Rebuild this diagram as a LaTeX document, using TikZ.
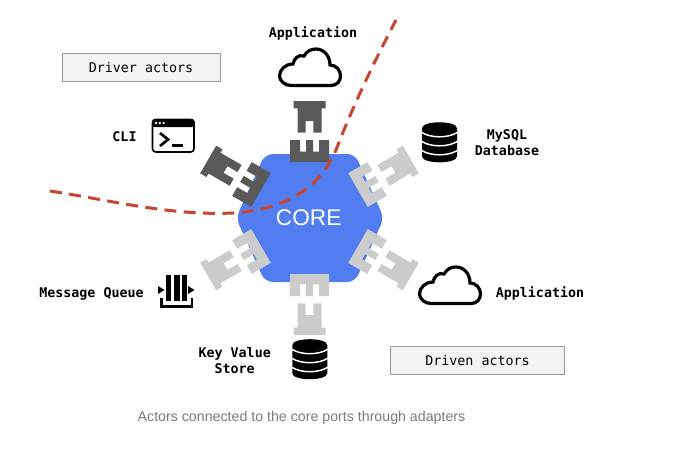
\documentclass[tikz,border=0pt]{standalone}
\usepackage{fontspec}
\usepackage{xcolor}
\setmainfont{Liberation Sans}
\setmonofont{DejaVu Sans Mono}
\definecolor{corefill}{HTML}{527DF0}
\definecolor{portdark}{HTML}{595959}
\definecolor{portlight}{HTML}{CCCCCC}
\definecolor{boundary}{HTML}{C8452F}
\definecolor{boxfill}{HTML}{F3F3F3}
\definecolor{boxline}{HTML}{999999}
\definecolor{captiontext}{HTML}{7A7A7A}
\tikzset{
    actor/.style={font=\ttfamily\bfseries\fontsize{10pt}{12pt}\selectfont, align=center},
    kind/.style={draw=boxline, fill=boxfill, line width=.6pt, minimum height=21pt, inner sep=0pt, font=\ttfamily\fontsize{10pt}{12pt}\selectfont},
    pics/port/.style={code={
        \fill[#1] (-19.5,-56) -- (-19.5,-78) -- (-9.5,-78) -- (-9.5,-66.3) -- (-3.5,-66.3) -- (-3.5,-78) -- (3.5,-78)
            -- (3.5,-66.3) -- (9.5,-66.3) -- (9.5,-78) -- (19.5,-78) -- (19.5,-56) -- cycle;
        \fill[#1] (-16,-117) -- (16,-117) -- (16,-109.7) -- (12,-109.7) -- (12,-85.3) -- (3.8,-85.3) -- (3.8,-97)
            -- (-3.8,-97) -- (-3.8,-85.3) -- (-12,-85.3) -- (-12,-109.7) -- (-16,-109.7) -- cycle;
    }},
    pics/cloud/.style={code={
        \draw[line width=2.4pt] (-19,18.5) -- (21,18.5) .. controls (27,18.5) and (30.5,14) .. (30.5,9)
            .. controls (30.5,3) and (26,-2) .. (20,-2) .. controls (20,-11) and (14,-18) .. (6,-18)
            .. controls (1,-18) and (-3,-16) .. (-6,-11) .. controls (-12,-13) and (-16,-8) .. (-17,-3)
            .. controls (-25,-3) and (-30.5,3) .. (-30.5,9) .. controls (-30.5,14) and (-25,18.5) .. (-19,18.5) -- cycle;
    }},
    pics/store/.style={code={
        \fill (-17.5,-14) .. controls (-17.5,-22) and (17.5,-22) .. (17.5,-14) -- (17.5,14)
            .. controls (17.5,22) and (-17.5,22) .. (-17.5,14) -- cycle;
        \foreach \h in {-10,-1,8}
            \draw[white, line width=1.1pt] (-18,\h) .. controls (-9,\h+6) and (9,\h+6) .. (18,\h);
    }}
}

\begin{document}
\begin{tikzpicture}[x=.75pt, y=-.75pt]
    \useasboundingbox (0,0) rectangle (684,451);
    \coordinate (centre) at (309.5,218);

    \fill[corefill, rounded corners=6pt] (236,218) -- (265,154) -- (355,154) -- (384,218) -- (355,282) -- (265,282) -- cycle;
    \node[text=white, font=\fontsize{17pt}{20pt}\selectfont, inner sep=0pt] (core) at (308.7,218) {CORE};

    \pic at (centre) {port=portdark};
    \pic[rotate=60] at (centre) {port=portdark};
    \pic[rotate=-60] at (centre) {port=portlight};
    \pic[rotate=120] at (centre) {port=portlight};
    \pic[rotate=-120] at (centre) {port=portlight};
    \pic[rotate=180] at (centre) {port=portlight};

    \draw[boundary, line width=2.25pt, dash pattern=on 9pt off 5.5pt] (50,191) .. controls (110,200) and (170,216) .. (233,213)
        .. controls (280,210) and (318,192) .. (336,150) .. controls (352,108) and (375,60) .. (396,20);

    % actors
    \pic at (310,67) {cloud};
    \pic at (450,285) {cloud};
    \pic at (439.5,142.3) {store};
    \pic at (309.8,359.2) {store};

    % terminal
    \draw[line width=1.2pt, rounded corners=2.5pt] (152.5,119.5) rectangle (194,152);
    \fill[rounded corners=2pt] (152,119) -- (194.5,119) -- (194.5,127) -- (152,127) -- cycle;
    \foreach \x in {156,159.8,163.6}
        \fill[white] (\x,123) circle (1.3);
    \draw[line width=2pt] (160,133) -- (168,139.5) -- (160,146);
    \draw[line width=1.8pt] (172,145.5) -- (182.5,145.5);

    % queue
    \fill (165.5,275.3) rectangle (171,301);
    \fill (173.5,275.3) rectangle (179.5,301);
    \fill (181.5,275.3) rectangle (187,301);
    \draw[line width=2pt] (161.5,298) -- (161.5,306.3) -- (192,306.3) -- (192,298);
    \fill (158,286) -- (164.5,290) -- (158,294) -- cycle;
    \fill (188,286) -- (194.5,290) -- (188,294) -- cycle;

    \node[actor] (top app) at (313,33) {Application};
    \node[actor] (cli) at (124.5,137) {CLI};
    \node[actor] (mysql) at (507,143) {MySQL\\Database};
    \node[actor] (right app) at (540,293) {Application};
    \node[actor] (queue) at (91.5,293.5) {Message Queue};
    \node[actor] (key value) at (234.7,360.3) {Key Value\\Store};

    \node[kind, minimum width=118.5pt] (driver) at (141,67.5) {Driver actors};
    \node[kind, minimum width=130.5pt] (driven) at (477.5,360.5) {Driven actors};

    \node[text=captiontext, font=\fontsize{10.65pt}{13pt}\selectfont, inner sep=0pt] (caption) at (301.5,418) {Actors connected to the core ports through adapters};
\end{tikzpicture}
\end{document}
